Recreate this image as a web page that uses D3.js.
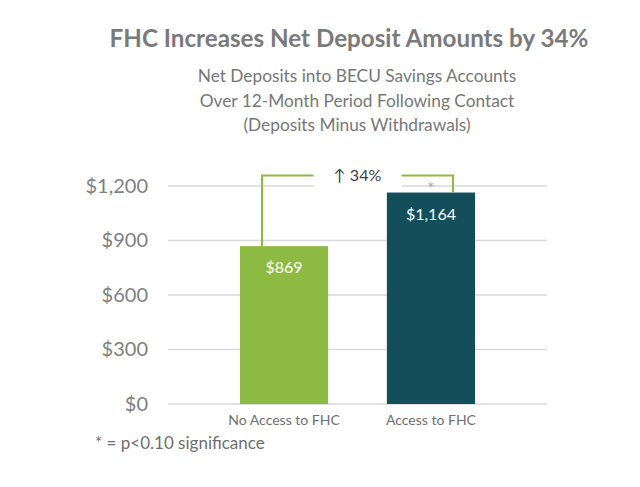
<!DOCTYPE html>
<html>
<head>
<meta charset="utf-8">
<script src="https://cdn.jsdelivr.net/npm/d3@7"></script>
<style>
  body { margin: 0; background: #fff; }
  svg text { font-family: "Lato", "Open Sans", sans-serif; }
</style>
</head>
<body>
<div id="chart"></div>
<script>
// chart data
var groups = ["No Access to FHC", "Access to FHC"];
var amounts = [869, 1164];
var barColors = ["#8dba43", "#154e5b"];
var tickValues = [0, 300, 600, 900, 1200];
var subtitleLines = [
  "Net Deposits into BECU Savings Accounts",
  "Over 12-Month Period Following Contact",
  "(Deposits Minus Withdrawals)"
];

var svgWidth = 640, svgHeight = 487;
var plotLeft = 168, plotRight = 547, plotTop = 186, plotBottom = 404;

var svg = d3.select("#chart")
  .append("svg")
  .attr("width", svgWidth)
  .attr("height", svgHeight);

// title + subtitle
svg.append("text")
  .attr("x", 349)
  .attr("y", 47)
  .attr("text-anchor", "middle")
  .attr("font-size", 24.2)
  .attr("font-weight", "bold")
  .attr("fill", "#7a7a7a")
  .text("FHC Increases Net Deposit Amounts by 34%");

svg.selectAll(".sub")
  .data(subtitleLines)
  .enter()
  .append("text")
  .attr("class", "sub")
  .attr("x", 357)
  .attr("y", (d, i) => 82 + i * 24.5)
  .attr("text-anchor", "middle")
  .attr("font-size", 17.3)
  .attr("fill", "#777")
  .text(d => d);

// scales
var xScale = d3.scaleBand()
  .domain(groups)
  .range([plotLeft, plotRight])
  .paddingInner(0.4)
  .paddingOuter(0.49);

var yScale = d3.scaleLinear()
  .domain([0, 1200])
  .range([plotBottom, plotTop]);

// gridlines
svg.append("g")
  .selectAll("line")
  .data(tickValues)
  .enter()
  .append("line")
  .attr("x1", plotLeft)
  .attr("x2", plotRight)
  .attr("y1", d => yScale(d))
  .attr("y2", d => yScale(d))
  .attr("stroke", "#d9d9d9")
  .attr("stroke-width", 1.5);

// y axis labels
var leftAxis = d3.axisLeft(yScale)
  .tickValues(tickValues)
  .tickSize(0)
  .tickPadding(20)
  .tickFormat(d => "$" + d3.format(",")(d));

svg.append("g")
  .attr("class", "leftAxis")
  .attr("transform", "translate(" + plotLeft + ",0)")
  .call(leftAxis)
  .call(g => g.select(".domain").remove())
  .selectAll("text")
  .attr("font-size", 20)
  .attr("fill", "#7f7f7f")
  .style("font-family", "Lato, sans-serif");

// x axis labels
var bottomAxis = d3.axisBottom(xScale).tickSize(0).tickPadding(11);
svg.append("g")
  .attr("class", "bottomAxis")
  .attr("transform", "translate(0," + plotBottom + ")")
  .call(bottomAxis)
  .call(g => g.select(".domain").remove())
  .selectAll("text")
  .attr("font-size", 14)
  .attr("fill", "#6f6f6f")
  .style("font-family", "Lato, sans-serif");

// bars
svg.selectAll(".bar")
  .data(amounts)
  .enter()
  .append("rect")
  .attr("class", "bar")
  .attr("x", (d, i) => xScale(groups[i]))
  .attr("y", d => yScale(d))
  .attr("width", xScale.bandwidth())
  .attr("height", d => plotBottom - yScale(d))
  .attr("fill", (d, i) => barColors[i]);

// value labels
svg.selectAll(".val")
  .data(amounts)
  .enter()
  .append("text")
  .attr("class", "val")
  .attr("x", (d, i) => xScale(groups[i]) + xScale.bandwidth() / 2)
  .attr("y", d => yScale(d) + 27)
  .attr("text-anchor", "middle")
  .attr("font-size", 16)
  .attr("fill", "#fff")
  .text(d => "$" + d3.format(",")(d));

// bracket showing the increase
var bw = xScale.bandwidth();
var xa = xScale(groups[0]) + bw * 0.25;
var xb = xScale(groups[1]) + bw * 0.75;
var yTop = 175.5;
var mid = (xa + xb) / 2;

svg.append("rect")
  .attr("x", mid - 44)
  .attr("y", yTop - 8)
  .attr("width", 88)
  .attr("height", 20)
  .attr("fill", "#fff");

svg.append("path")
  .attr("d", "M" + xa + "," + yScale(amounts[0]) + "V" + yTop + "H" + (mid - 44))
  .attr("fill", "none")
  .attr("stroke", "#8dba43")
  .attr("stroke-width", 2);

svg.append("path")
  .attr("d", "M" + (mid + 44) + "," + yTop + "H" + xb + "V" + yScale(amounts[1]))
  .attr("fill", "none")
  .attr("stroke", "#8dba43")
  .attr("stroke-width", 2);

svg.append("text")
  .attr("x", mid)
  .attr("y", yTop + 5)
  .attr("text-anchor", "middle")
  .attr("font-size", 16)
  .attr("fill", "#404040")
  .text("\u2191 34%");

svg.append("text")
  .attr("x", xScale(groups[1]) + bw / 2)
  .attr("y", yScale(amounts[1]) + 2)
  .attr("text-anchor", "middle")
  .attr("font-size", 17)
  .attr("fill", "#a6a6a6")
  .text("*");

// footnote
svg.append("text")
  .attr("x", 95)
  .attr("y", 449)
  .attr("font-size", 17)
  .attr("fill", "#6f6f6f")
  .text("* = p<0.10 significance");
</script>
</body>
</html>
